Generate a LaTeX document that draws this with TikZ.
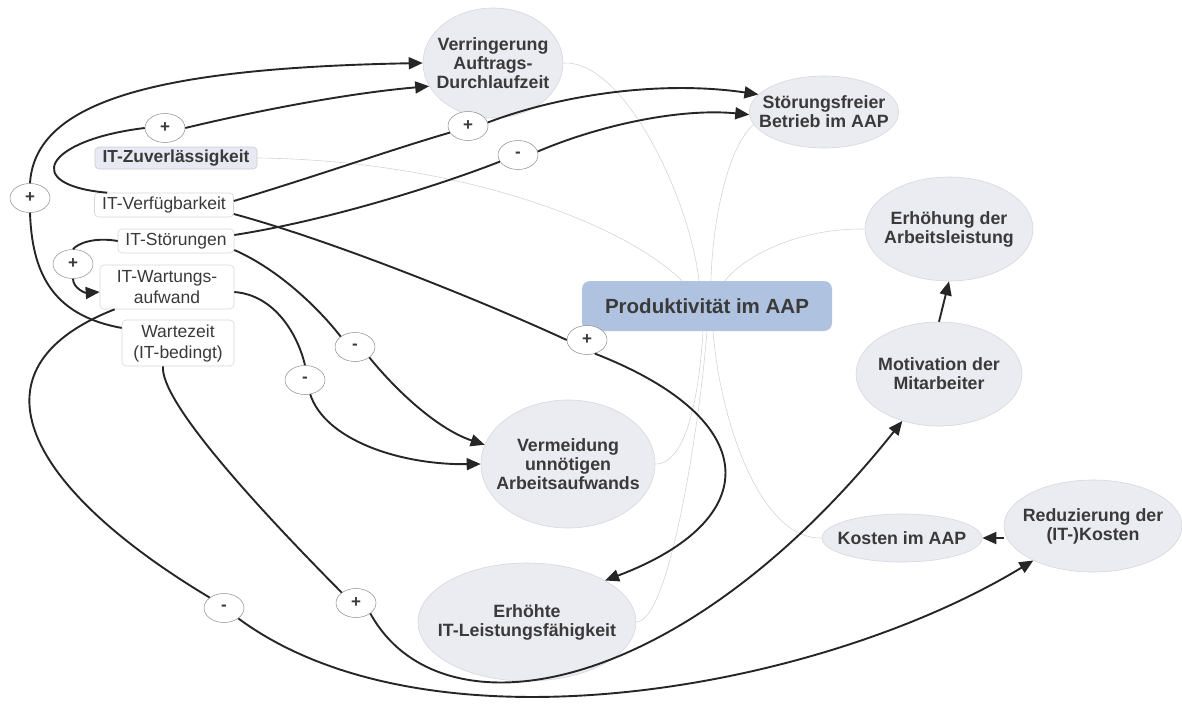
\documentclass[tikz,border=0pt]{standalone}
\usepackage{fontspec}
\setmainfont{Liberation Sans}
\usepackage{tikz}
\usetikzlibrary{shapes, arrows.meta, positioning}
\definecolor{goalfill}{RGB}{235,235,242}
\definecolor{goalline}{RGB}{214,214,222}
\definecolor{zuvfill}{RGB}{232,233,243}
\definecolor{zuvline}{RGB}{200,202,218}
\definecolor{rootblue}{RGB}{175,195,225}
\definecolor{labelgray}{RGB}{58,58,58}
\definecolor{branchgray}{RGB}{212,212,212}

\begin{document}
\begin{tikzpicture}[x=1pt, y=-1pt,
  goal/.style={ellipse, fill=goalfill, draw=goalline, line width=0.6pt, text=labelgray,
    font=\fontsize{17.8}{19}\selectfont\bfseries, align=center, inner xsep=-12pt, inner ysep=0pt},
  factor/.style={rectangle, rounded corners=4pt, fill=white, draw=goalline, line width=0.6pt,
    text=labelgray, font=\fontsize{17.5}{21}\selectfont, align=center, inner sep=0pt},
  sign/.style={ellipse, fill=white, draw=gray!90, line width=0.5pt, minimum width=40pt,
    minimum height=29pt, inner sep=0pt, font=\fontsize{17}{17}\selectfont\bfseries, text=labelgray},
  causal/.style={line width=1.9pt, black!85},
  causalarrow/.style={causal, -{Triangle[length=14pt,width=12pt]}},
  branch/.style={branchgray, line width=0.6pt}]
  \useasboundingbox (0,0) rectangle (1182,704);
  % root
  \node[rectangle, rounded corners=8pt, fill=rootblue, minimum width=250pt, minimum height=50pt,
    font=\fontsize{20.5}{22}\selectfont\bfseries, text=labelgray] (prod) at (707,306) {Produktivität im AAP};
  % goals
  \node[goal, minimum width=140pt, minimum height=110pt] (dlz) at (493,63) {Verringerung\\Auftrags-\\Durchlaufzeit};
  \node[goal, minimum width=146pt, minimum height=72pt] (stf) at (824,112) {Störungsfreier\\Betrieb im AAP};
  \node[goal, minimum width=168pt, minimum height=104pt] (erh) at (949,229) {Erhöhung der\\Arbeitsleistung};
  \node[goal, minimum width=166pt, minimum height=104pt] (mot) at (939,374) {Motivation der\\Mitarbeiter};
  \node[goal, minimum width=160pt, minimum height=48pt] (kost) at (902,538) {Kosten im AAP};
  \node[goal, minimum width=178pt, minimum height=92pt] (red) at (1093,526) {Reduzierung der\\(IT-)Kosten};
  \node[goal, minimum width=174pt, minimum height=128pt] (verm) at (568,464) {Vermeidung\\unnötigen\\Arbeitsaufwands};
  \node[goal, minimum width=218pt, minimum height=118pt] (itl) at (527,622) {Erhöhte\\IT-Leistungsfähigkeit};
  % IT factors
  \node[factor, fill=zuvfill, draw=zuvline, font=\fontsize{17.4}{19}\selectfont\bfseries,
    minimum width=162pt, minimum height=22pt] (zuv) at (176,158) {IT-Zuverlässigkeit};
  \node[factor, minimum width=139pt, minimum height=24pt] (verf) at (164,205) {IT-Verfügbarkeit};
  \node[factor, minimum width=116pt, minimum height=24pt] (stoer) at (176,241) {IT-Störungen};
  \node[factor, minimum width=134pt, minimum height=44pt] (wart) at (167,287) {IT-Wartungs-\\aufwand};
  \node[factor, minimum width=112pt, minimum height=46pt] (wz) at (178,343) {Wartezeit\\(IT-bedingt)};
  % polarity marks
  \foreach \n/\x/\y/\s in {s1/165/128/+, s2/30/198/+, s3/468/126/+, s4/518/155/-, s5/73/264/+,
      s6/355/347/-, s7/305/380/-, s8/587/340/+, s9/224/608/-, s10/356/603/+}
    \node[sign] (\n) at (\x,\y) {\s};

  % branches of the root
  \draw[branch] (dlz.east) .. controls (625,60) and (690,200) .. ([xshift=-8pt]prod.north);
  \draw[branch] (stf.190) .. controls (725,150) and (712,230) .. ([xshift=4pt]prod.north);
  \draw[branch] (zuv.east) .. controls (450,160) and (620,220) .. ([xshift=-25pt]prod.north);
  \draw[branch] (erh.west) .. controls (800,228) and (745,255) .. ([xshift=18pt]prod.north);
  \draw[branch] (verm.east) .. controls (690,464) and (700,380) .. ([xshift=-4pt]prod.south);
  \draw[branch] (itl.east) .. controls (670,622) and (700,420) .. (prod.south);
  \draw[branch] (kost.west) .. controls (760,540) and (720,420) .. ([xshift=6pt]prod.south);

  % causal links
  \draw[causal] ([xshift=13pt]verf.north west) .. controls (20,185) and (45,140) .. (s1.west);
  \draw[causalarrow] (s1.east) .. controls (260,110) and (350,93) .. (dlz.200);
  \draw[causal] (wz.165) .. controls (50,315) and (32,270) .. (s2.south);
  \draw[causalarrow] (s2.north) .. controls (35,100) and (160,68) .. (dlz.west);
  \draw[causal] ([yshift=4pt]verf.east) .. controls (320,175) and (390,150) .. (s3.200);
  \draw[causalarrow] (s3.10) .. controls (560,95) and (660,80) .. (stf.165);
  \draw[causal] ([yshift=6pt]stoer.east) .. controls (330,220) and (440,185) .. (s4.200);
  \draw[causalarrow] (s4.10) .. controls (600,125) and (680,108) .. (stf.182);
  \draw[causal] (stoer.west) .. controls (95,237) and (78,243) .. (s5.north);
  \draw[causalarrow] (s5.south) .. controls (73,288) and (85,293) .. ([yshift=-5pt]wart.west);
  \draw[causal] ([yshift=-9pt]verf.east) .. controls (330,240) and (480,300) .. (s8.180);
  \draw[causalarrow] (s8.300) .. controls (765,420) and (765,520) .. (itl.28);
  \draw[causal] ([yshift=-9pt]stoer.east) .. controls (280,270) and (320,310) .. (s6.north west);
  \draw[causalarrow] (s6.south east) .. controls (400,395) and (440,430) .. (verm.167);
  \draw[causal] ([yshift=-5pt]wart.east) .. controls (275,295) and (298,335) .. (s7.north);
  \draw[causalarrow] (s7.290) .. controls (325,440) and (400,465) .. (verm.west);
  \draw[causal] ([xshift=15pt]wart.south west) .. controls (-40,370) and (30,490) .. (s9.north west);
  \draw[causalarrow] (s9.south east) .. controls (430,760) and (820,690) .. (red.210);
  \draw[causal] ([xshift=-15pt]wz.south) .. controls (160,400) and (250,500) .. (s10.north west);
  \draw[causalarrow] (s10.south east) .. controls (440,740) and (680,700) .. (mot.232);
  \draw[causalarrow] (mot.north) -- (erh.south);
  \draw[causalarrow] (kost.east -| red.west) -- (kost.east);
\end{tikzpicture}
\end{document}
